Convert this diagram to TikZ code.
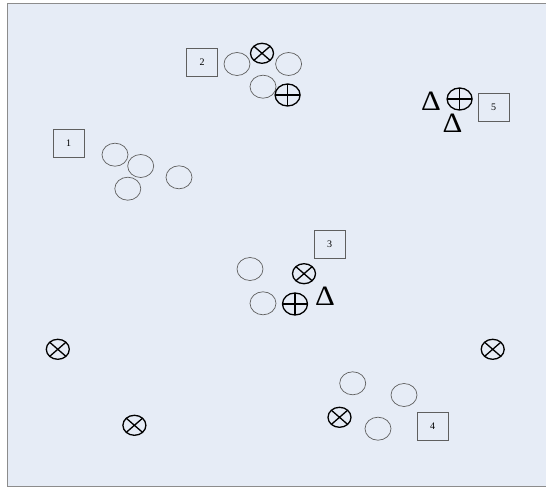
\documentclass[tikz,border=0pt]{standalone}
\usepackage{fontspec}
\setmainfont{Liberation Serif}
\usetikzlibrary{shapes.geometric}

\definecolor{panelbg}{RGB}{230,236,246}
\definecolor{framegray}{RGB}{140,140,140}
\definecolor{cellgray}{RGB}{95,95,95}

\tikzset{
  cell/.style={ellipse, draw=cellgray, line width=0.7pt, minimum width=26pt, minimum height=23pt, inner sep=0pt},
  sitebox/.style={draw=cellgray, line width=0.7pt, minimum width=31pt, minimum height=28pt, inner sep=0pt, font=\fontsize{10}{11}\selectfont},
  sym/.style={ellipse, draw=black, line width=1.3pt, inner sep=0pt},
  crossnode/.style={sym, minimum width=23pt, minimum height=20pt,
    path picture={\draw[line width=1.3pt] (path picture bounding box.north west) -- (path picture bounding box.south east)
      (path picture bounding box.north east) -- (path picture bounding box.south west);}},
  plusnode/.style={sym, minimum width=25pt, minimum height=22pt,
    path picture={\draw[line width=1.3pt] (path picture bounding box.north) -- (path picture bounding box.south)
      (path picture bounding box.west) -- (path picture bounding box.east);}},
  deltanode/.style={inner sep=0pt, xscale=1.1, font=\fontsize{28}{29}\selectfont}
}

\begin{document}
\begin{tikzpicture}[x=1pt, y=-1pt]
\useasboundingbox (0,0) rectangle (546,489);
\fill[panelbg] (7,3) rectangle (546,486);
\draw[framegray, line width=0.8pt] (546,3) -- (7,3) -- (7,486) -- (546,486);

% group 1
\node[sitebox] (box1) at (68.5,143.7) {1};
\node[cell] (c1a) at (115,154.7) {};
\node[cell] (c1b) at (140.7,166) {};
\node[cell] (c1c) at (127.8,188.7) {};
\node[cell] (c1d) at (179,177.3) {};

% group 2
\node[sitebox] (box2) at (202,62) {2};
\node[cell] (c2a) at (237,64) {};
\node[cell] (c2b) at (288.6,64) {};
\node[cell] (c2c) at (263,86.7) {};
\node[crossnode] (x2) at (262,53.3) {};
\node[plusnode] (p2) at (287.6,95) {};

% group 3
\node[sitebox] (box3) at (329.7,244.2) {3};
\node[cell] (c3a) at (250,269) {};
\node[cell] (c3b) at (263,303.3) {};
\node[crossnode] (x3) at (304,273.7) {};
\node[plusnode] (p3) at (295,304) {};
\node[deltanode] (d3) at (325,296.7) {Δ};

% group 4
\node[sitebox] (box4) at (432.5,426.5) {4};
\node[cell] (c4a) at (352.7,383.3) {};
\node[cell] (c4b) at (404,395) {};
\node[cell] (c4c) at (378,428.7) {};
\node[crossnode] (x4) at (339.5,417.3) {};

% group 5
\node[sitebox] (box5) at (493.5,107.5) {5};
\node[deltanode] (d5a) at (431,101.7) {Δ};
\node[plusnode] (p5) at (459.6,99) {};
\node[deltanode] (d5b) at (452.6,123.3) {Δ};

% isolated
\node[crossnode] (xa) at (57.8,349.3) {};
\node[crossnode] (xb) at (492.7,349.3) {};
\node[crossnode] (xc) at (134.4,425.3) {};
\end{tikzpicture}
\end{document}
